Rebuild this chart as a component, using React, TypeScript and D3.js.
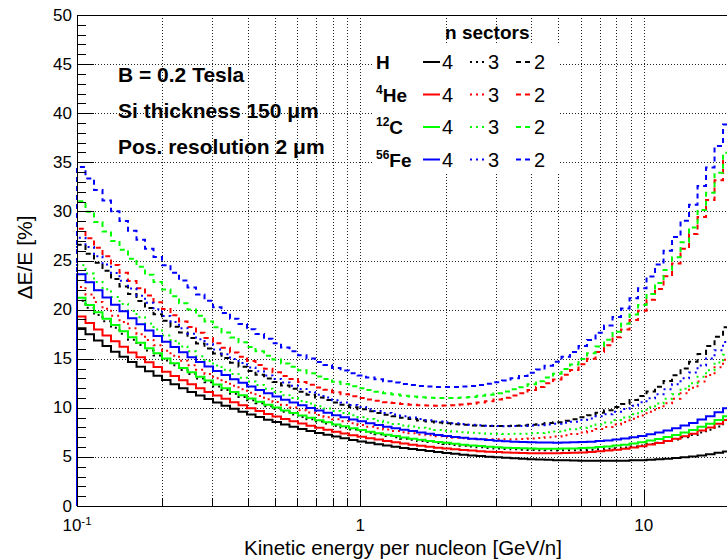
import React from "react";
import * as d3 from "d3";

// ---------- data ----------
// histogram binning: 100 log bins from 0.1 to 100 GeV/n, only the first 77 are visible
const BIN_LOW = 0.1;
const BINS_PER_DECADE = 100 / 3;
const N_VISIBLE_BINS = 77;
const binEdges = d3.range(N_VISIBLE_BINS + 1).map((i) => BIN_LOW * Math.pow(10, i / BINS_PER_DECADE));

const H4 = [18.10, 17.48, 16.85, 16.29, 15.72, 15.20, 14.67, 14.19, 13.71, 13.27,
  12.82, 12.41, 11.99, 11.62, 11.24, 10.89, 10.54, 10.22, 9.90, 9.61,
  9.32, 9.06, 8.79, 8.55, 8.30, 8.08, 7.85, 7.65, 7.44, 7.26,
  7.07, 6.90, 6.73, 6.58, 6.43, 6.29, 6.15, 6.03, 5.91, 5.80,
  5.69, 5.59, 5.49, 5.40, 5.31, 5.23, 5.15, 5.09, 5.02, 4.97,
  4.91, 4.86, 4.81, 4.77, 4.73, 4.70, 4.67, 4.65, 4.63, 4.62,
  4.60, 4.60, 4.60, 4.61, 4.62, 4.65, 4.67, 4.71, 4.75, 4.82,
  4.88, 4.96, 5.04, 5.15, 5.26, 5.41, 5.55];
const H3 = [20.90, 20.18, 19.46, 18.81, 18.16, 17.55, 16.94, 16.39, 15.83, 15.32,
  14.81, 14.34, 13.86, 13.43, 12.99, 12.59, 12.18, 11.81, 11.44, 11.11,
  10.77, 10.47, 10.16, 9.88, 9.59, 9.33, 9.07, 8.84, 8.61, 8.40,
  8.18, 7.99, 7.80, 7.63, 7.46, 7.30, 7.14, 7.00, 6.86, 6.74,
  6.62, 6.52, 6.41, 6.31, 6.21, 6.13, 6.05, 5.98, 5.91, 5.86,
  5.81, 5.77, 5.73, 5.71, 5.68, 5.67, 5.66, 5.67, 5.67, 5.70,
  5.72, 5.77, 5.82, 5.89, 5.96, 6.07, 6.17, 6.31, 6.44, 6.61,
  6.78, 7.00, 7.22, 7.49, 7.76, 8.09, 8.42];
const H2 = [26.61, 25.70, 24.78, 23.95, 23.12, 22.35, 21.58, 20.88, 20.17, 19.52,
  18.86, 18.26, 17.66, 17.11, 16.56, 16.05, 15.53, 15.07, 14.60, 14.18,
  13.76, 13.37, 12.98, 12.63, 12.27, 11.95, 11.63, 11.34, 11.05, 10.80,
  10.54, 10.30, 10.06, 9.86, 9.66, 9.48, 9.29, 9.14, 8.98, 8.85,
  8.71, 8.61, 8.50, 8.42, 8.33, 8.27, 8.21, 8.18, 8.14, 8.14,
  8.14, 8.17, 8.20, 8.27, 8.33, 8.44, 8.54, 8.69, 8.83, 9.04,
  9.24, 9.50, 9.75, 10.07, 10.39, 10.79, 11.19, 11.67, 12.15, 12.73,
  13.31, 14.00, 14.68, 15.49, 16.29, 17.24, 18.19];
const He4 = [19.30, 18.64, 17.97, 17.37, 16.77, 16.21, 15.64, 15.14, 14.63, 14.16,
  13.68, 13.24, 12.80, 12.40, 11.99, 11.62, 11.25, 10.91, 10.57, 10.27,
  9.96, 9.67, 9.38, 9.12, 8.86, 8.63, 8.39, 8.18, 7.97, 7.77,
  7.57, 7.39, 7.21, 7.06, 6.90, 6.76, 6.62, 6.49, 6.36, 6.25,
  6.14, 6.04, 5.94, 5.86, 5.78, 5.71, 5.64, 5.58, 5.52, 5.49,
  5.45, 5.42, 5.39, 5.38, 5.36, 5.37, 5.37, 5.39, 5.41, 5.46,
  5.51, 5.58, 5.64, 5.74, 5.83, 5.96, 6.09, 6.26, 6.42, 6.63,
  6.84, 7.10, 7.36, 7.68, 7.99, 8.37, 8.75];
const He3 = [22.31, 21.55, 20.78, 20.08, 19.38, 18.74, 18.09, 17.50, 16.91, 16.36,
  15.81, 15.31, 14.80, 14.34, 13.88, 13.45, 13.02, 12.63, 12.24, 11.89,
  11.53, 11.21, 10.88, 10.58, 10.28, 10.02, 9.75, 9.51, 9.26, 9.05,
  8.83, 8.63, 8.43, 8.26, 8.08, 7.93, 7.78, 7.65, 7.51, 7.40,
  7.29, 7.20, 7.11, 7.04, 6.96, 6.91, 6.86, 6.83, 6.80, 6.80,
  6.79, 6.81, 6.82, 6.87, 6.92, 7.00, 7.08, 7.20, 7.32, 7.48,
  7.64, 7.84, 8.04, 8.30, 8.56, 8.89, 9.21, 9.60, 9.99, 10.46,
  10.92, 11.48, 12.04, 12.69, 13.34, 14.12, 14.89];
const He2 = [28.23, 27.27, 26.30, 25.43, 24.55, 23.74, 22.92, 22.18, 21.43, 20.75,
  20.06, 19.43, 18.80, 18.23, 17.65, 17.12, 16.58, 16.11, 15.63, 15.20,
  14.76, 14.37, 13.97, 13.61, 13.25, 12.94, 12.63, 12.35, 12.07, 11.83,
  11.59, 11.39, 11.18, 11.01, 10.84, 10.71, 10.57, 10.48, 10.38, 10.32,
  10.26, 10.24, 10.21, 10.24, 10.27, 10.34, 10.41, 10.54, 10.66, 10.84,
  11.02, 11.26, 11.49, 11.81, 12.12, 12.51, 12.89, 13.37, 13.85, 14.43,
  15.00, 15.69, 16.37, 17.18, 17.98, 18.94, 19.89, 21.00, 22.11, 23.40,
  24.69, 26.19, 27.69, 29.43, 31.16, 33.16, 35.16];
const C4 = [21.20, 20.47, 19.74, 19.08, 18.42, 17.80, 17.18, 16.63, 16.07, 15.55,
  15.02, 14.54, 14.06, 13.62, 13.17, 12.77, 12.36, 11.99, 11.61, 11.28,
  10.94, 10.62, 10.30, 10.02, 9.73, 9.47, 9.21, 8.98, 8.74, 8.53,
  8.31, 8.12, 7.92, 7.75, 7.57, 7.41, 7.25, 7.12, 6.98, 6.86,
  6.74, 6.63, 6.52, 6.43, 6.33, 6.25, 6.17, 6.10, 6.03, 5.99,
  5.94, 5.91, 5.87, 5.85, 5.83, 5.83, 5.83, 5.85, 5.86, 5.90,
  5.93, 6.00, 6.07, 6.16, 6.24, 6.37, 6.50, 6.66, 6.82, 7.03,
  7.23, 7.49, 7.75, 8.07, 8.38, 8.77, 9.15];
const C3 = [24.51, 23.67, 22.82, 22.06, 21.29, 20.58, 19.87, 19.23, 18.58, 17.98,
  17.37, 16.81, 16.25, 15.75, 15.24, 14.77, 14.30, 13.87, 13.44, 13.06,
  12.67, 12.31, 11.94, 11.62, 11.29, 10.99, 10.69, 10.43, 10.16, 9.92,
  9.68, 9.46, 9.24, 9.05, 8.85, 8.68, 8.51, 8.36, 8.21, 8.09,
  7.97, 7.86, 7.75, 7.67, 7.58, 7.52, 7.46, 7.42, 7.37, 7.36,
  7.34, 7.35, 7.36, 7.40, 7.44, 7.52, 7.59, 7.70, 7.81, 7.96,
  8.11, 8.31, 8.51, 8.77, 9.02, 9.34, 9.66, 10.05, 10.44, 10.91,
  11.38, 11.94, 12.50, 13.17, 13.83, 14.61, 15.39];
const C2 = [31.03, 29.97, 28.91, 27.95, 26.98, 26.09, 25.19, 24.37, 23.55, 22.80,
  22.04, 21.35, 20.65, 20.02, 19.38, 18.80, 18.21, 17.68, 17.15, 16.67,
  16.19, 15.75, 15.31, 14.92, 14.52, 14.17, 13.82, 13.51, 13.20, 12.93,
  12.65, 12.42, 12.19, 12.00, 11.80, 11.64, 11.47, 11.35, 11.23, 11.15,
  11.07, 11.03, 10.99, 11.00, 11.00, 11.06, 11.11, 11.22, 11.32, 11.49,
  11.65, 11.88, 12.10, 12.41, 12.71, 13.09, 13.47, 13.94, 14.41, 14.98,
  15.55, 16.24, 16.92, 17.74, 18.55, 19.51, 20.47, 21.59, 22.71, 24.02,
  25.33, 26.85, 28.37, 30.13, 31.89, 33.93, 35.96];
const Fe4 = [23.60, 22.79, 21.98, 21.24, 20.50, 19.82, 19.13, 18.51, 17.88, 17.30,
  16.72, 16.19, 15.65, 15.16, 14.66, 14.21, 13.75, 13.34, 12.92, 12.55,
  12.17, 11.82, 11.47, 11.15, 10.83, 10.54, 10.25, 9.99, 9.73, 9.49,
  9.25, 9.03, 8.81, 8.62, 8.42, 8.25, 8.08, 7.92, 7.76, 7.63,
  7.49, 7.37, 7.24, 7.14, 7.03, 6.95, 6.86, 6.79, 6.71, 6.65,
  6.59, 6.55, 6.51, 6.49, 6.46, 6.46, 6.45, 6.47, 6.48, 6.52,
  6.55, 6.62, 6.68, 6.78, 6.87, 7.00, 7.13, 7.31, 7.48, 7.70,
  7.91, 8.19, 8.46, 8.80, 9.13, 9.54, 9.95];
const Fe3 = [27.31, 26.37, 25.43, 24.58, 23.73, 22.94, 22.14, 21.42, 20.70, 20.03,
  19.35, 18.73, 18.11, 17.55, 16.98, 16.46, 15.93, 15.46, 14.98, 14.55,
  14.11, 13.71, 13.30, 12.94, 12.57, 12.25, 11.92, 11.62, 11.32, 11.05,
  10.78, 10.53, 10.28, 10.07, 9.86, 9.67, 9.47, 9.31, 9.15, 9.00,
  8.85, 8.73, 8.61, 8.52, 8.42, 8.35, 8.27, 8.22, 8.17, 8.15,
  8.13, 8.14, 8.14, 8.19, 8.23, 8.30, 8.37, 8.48, 8.59, 8.75,
  8.91, 9.13, 9.34, 9.61, 9.88, 10.22, 10.56, 10.97, 11.38, 11.89,
  12.39, 13.00, 13.60, 14.31, 15.02, 15.87, 16.71];
const Fe2 = [34.53, 33.35, 32.17, 31.10, 30.02, 29.03, 28.03, 27.12, 26.20, 25.36,
  24.52, 23.75, 22.97, 22.26, 21.55, 20.90, 20.25, 19.66, 19.07, 18.54,
  18.00, 17.51, 17.02, 16.58, 16.14, 15.75, 15.36, 15.01, 14.66, 14.36,
  14.05, 13.79, 13.52, 13.30, 13.08, 12.90, 12.71, 12.57, 12.43, 12.33,
  12.23, 12.18, 12.13, 12.13, 12.13, 12.18, 12.22, 12.33, 12.44, 12.61,
  12.77, 13.01, 13.25, 13.57, 13.89, 14.29, 14.69, 15.19, 15.69, 16.30,
  16.91, 17.65, 18.38, 19.25, 20.12, 21.15, 22.18, 23.38, 24.58, 25.99,
  27.40, 29.04, 30.68, 32.58, 34.47, 36.67, 38.86];

const species = ["H", "He", "C", "Fe"];
const speciesMass = ["", "4", "12", "56"];
const speciesColors = ["#000000", "#ff0000", "#00ff00", "#0000ff"];
const sectorCounts = [4, 3, 2];
const sectorDash = ["none", "2,4", "5,4"];
const seriesValues = [
  [H4, H3, H2],
  [He4, He3, He2],
  [C4, C3, C2],
  [Fe4, Fe3, Fe2],
];

const xMajorTicks = [0.1, 1, 10];
const xMinorTicks = [0.2, 0.3, 0.4, 0.5, 0.6, 0.7, 0.8, 0.9, 2, 3, 4, 5, 6, 7, 8, 9, 20];
const yMajorTicks = d3.range(0, 51, 5);
const yMinorTicks = d3.range(0, 51, 1);
const annotations = ["B = 0.2 Tesla", "Si thickness 150 \u03bcm", "Pos. resolution 2 \u03bcm"];

// ---------- layout ----------
const W = 727, H = 559;
const L = 77, R = 729, T = 15, B = 506;
const FONT = "'Liberation Sans', Arial, Helvetica, sans-serif";

export default function App() {
  const x = d3.scaleLog().domain([0.1, 20]).range([L, R]);
  const y = d3.scaleLinear().domain([0, 50]).range([B, T]);

  const stepPath = (vals: number[]) => {
    const p = d3.path();
    p.moveTo(x(binEdges[0]), y(0));
    vals.forEach((v, i) => {
      p.lineTo(x(binEdges[i]), y(v));
      p.lineTo(x(binEdges[i + 1]), y(v));
    });
    return p.toString();
  };

  const legendRowY = [62, 94.5, 127, 159.5];
  const legendSampleX = [423, 470, 516];
  const legendNumX = [442, 488, 534];

  return (
    <svg width={W} height={H} style={{ position: "absolute", left: 0, top: 0, background: "#fff" }}
      fontFamily={FONT}>
      <defs>
        <clipPath id="plotclip">
          <rect x={L - 2} y={T - 1} width={R - L + 4} height={B - T + 2} />
        </clipPath>
      </defs>
      <rect x={0} y={0} width={W} height={H} fill="#fff" />

      {/* grid */}
      <g stroke="#222" strokeWidth={1} strokeDasharray="1,2">
        {[...xMinorTicks, ...xMajorTicks.slice(1)].map((t) => (
          <line key={"gx" + t} x1={Math.round(x(t)) + 0.5} x2={Math.round(x(t)) + 0.5} y1={T} y2={B} />
        ))}
        {yMajorTicks.slice(1).map((t) => (
          <line key={"gy" + t} x1={L} x2={R} y1={Math.round(y(t)) + 0.5} y2={Math.round(y(t)) + 0.5} />
        ))}
      </g>

      {/* histograms */}
      <g clipPath="url(#plotclip)" fill="none" strokeWidth={2}>
        {seriesValues.map((row, si) =>
          row.map((vals, k) => (
            <path key={species[si] + k} d={stepPath(vals)} stroke={speciesColors[si]}
              strokeDasharray={sectorDash[k]} />
          ))
        )}
      </g>

      {/* frame / axes */}
      <g stroke="#000" strokeWidth={1} fill="none">
        <line x1={L} x2={R} y1={T + 0.5} y2={T + 0.5} />
        <line x1={L + 0.5} x2={L + 0.5} y1={T} y2={B} />
        <line x1={L} x2={R} y1={B + 0.5} y2={B + 0.5} />
        {yMinorTicks.map((t) => (
          <line key={"ty" + t} x1={L} x2={L + (t % 5 === 0 ? 17 : 9)} y1={Math.round(y(t)) + 0.5} y2={Math.round(y(t)) + 0.5} />
        ))}
        {xMajorTicks.map((t) => (
          <line key={"tx" + t} x1={Math.round(x(t)) + 0.5} x2={Math.round(x(t)) + 0.5} y1={B} y2={B - 16} />
        ))}
        {xMinorTicks.map((t) => (
          <line key={"tmx" + t} x1={Math.round(x(t)) + 0.5} x2={Math.round(x(t)) + 0.5} y1={B} y2={B - 8} />
        ))}
      </g>

      {/* y tick labels */}
      <g fontSize={17} textAnchor="end" fill="#000">
        {yMajorTicks.map((t) => (
          <text key={"ly" + t} x={L - 5} y={y(t) + 5.5}>{t}</text>
        ))}
      </g>
      {/* x tick labels */}
      <g fontSize={17} textAnchor="middle" fill="#000">
        {xMajorTicks.map((t) => {
          const e = Math.round(Math.log10(t));
          return e < 0 ? (
            <text key={"lx" + t} x={x(t)} y={531}>10<tspan fontSize={11.5} dy={-6}>{e}</tspan></text>
          ) : (
            <text key={"lx" + t} x={x(t)} y={531}>{t}</text>
          );
        })}
      </g>

      {/* axis titles */}
      <text x={(L + R) / 2} y={554.5} fontSize={20.5} textAnchor="middle">Kinetic energy per nucleon [GeV/n]</text>
      <text transform={`translate(32,${(T + B) / 2 - 3}) rotate(-90)`} fontSize={21} textAnchor="middle">
        {"\u0394E/E [%]"}
      </text>

      {/* annotations */}
      <g fontSize={21} fontWeight="bold">
        {annotations.map((a, i) => (
          <text key={a} x={118} y={82 + i * 36}>{a}</text>
        ))}
      </g>

      {/* legend */}
      <rect x={373} y={45} width={187} height={128} fill="#fff" />
      <text x={445} y={39} fontSize={19} fontWeight="bold">n sectors</text>
      {species.map((s, si) => (
        <g key={"lg" + s}>
          <text x={376} y={legendRowY[si] + 7} fontSize={19} fontWeight="bold">
            {speciesMass[si] && <tspan fontSize={12} dy={-8}>{speciesMass[si]}</tspan>}
            <tspan dy={speciesMass[si] ? 8 : 0}>{s}</tspan>
          </text>
          {sectorCounts.map((n, k) => (
            <g key={"lgs" + s + n}>
              <line x1={legendSampleX[k]} x2={legendSampleX[k] + 17} y1={legendRowY[si]} y2={legendRowY[si]}
                stroke={speciesColors[si]} strokeWidth={2} strokeDasharray={sectorDash[k]} />
              <text x={legendNumX[k]} y={legendRowY[si] + 7} fontSize={20}>{n}</text>
            </g>
          ))}
        </g>
      ))}
    </svg>
  );
}
